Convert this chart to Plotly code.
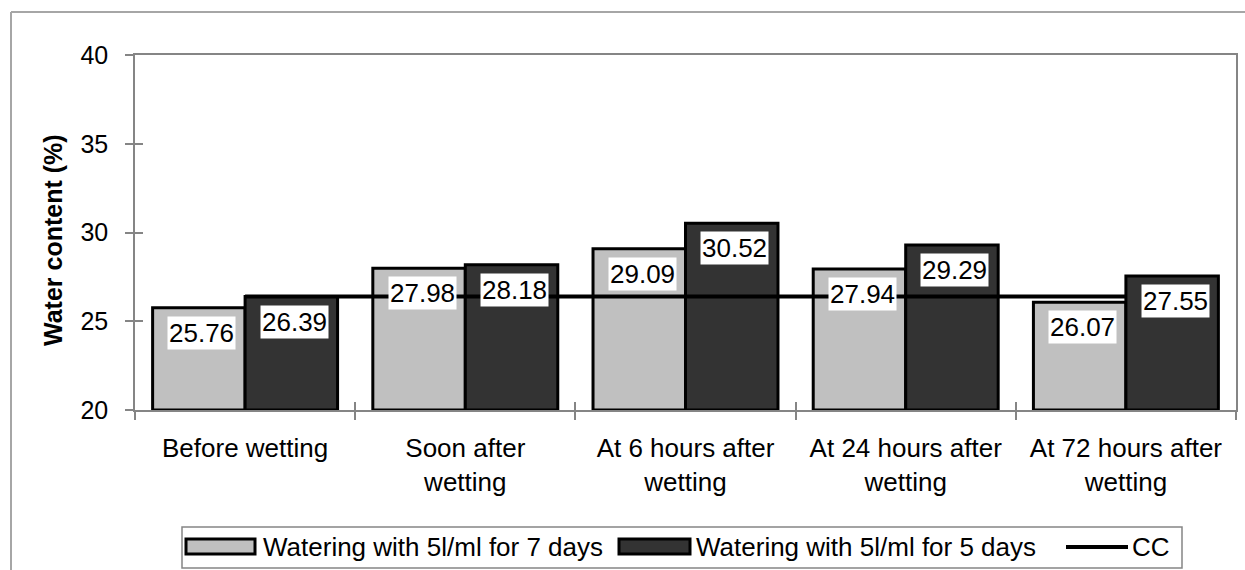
import plotly.graph_objects as go

# ---- data ----
categories = [
    "Before wetting",
    "Soon after<br>wetting",
    "At 6 hours after<br>wetting",
    "At 24 hours after<br>wetting",
    "At 72 hours after<br>wetting",
]
seven_days = [25.76, 27.98, 29.09, 27.94, 26.07]
five_days = [26.39, 28.18, 30.52, 29.29, 27.55]
cc_values = [26.4, 26.4, 26.4, 26.4, 26.4]
y_ticks = [20, 25, 30, 35, 40]
series_names = [
    "Watering with 5l/ml for 7 days",
    "Watering with 5l/ml for 5 days",
    "CC",
]
y_title = "Water content (%)"

# ---- geometry / style ----
W, H = 1245, 570
L, R, T, B = 135, 9, 55, 160
PW = W - L - R
PH = H - T - B
Y_MIN, Y_MAX = 20, 40
BARGAP = 0.16

FONT = "Liberation Sans, Arial, Helvetica, sans-serif"
LIGHT = "#c0c0c0"
DARK = "#333333"
AXIS = "#858585"
FRAME = "#a6a6a6"


def px(xp):
    """page x pixel -> paper x"""
    return (xp - L) / PW


def py(yp):
    """page y pixel -> paper y"""
    return (H - B - yp) / PH


fig = go.Figure()

# bars rise from the bottom of the value axis
fig.add_bar(
    x=categories, y=[v - Y_MIN for v in seven_days], base=Y_MIN,
    name=series_names[0], customdata=seven_days,
    hovertemplate="%{customdata}<extra></extra>",
    marker=dict(color=LIGHT, line=dict(color="black", width=3)),
)
fig.add_bar(
    x=categories, y=[v - Y_MIN for v in five_days], base=Y_MIN,
    name=series_names[1], customdata=five_days,
    hovertemplate="%{customdata}<extra></extra>",
    marker=dict(color=DARK, line=dict(color="black", width=3)),
)
fig.add_scatter(
    x=categories, y=cc_values, mode="lines", name=series_names[2],
    line=dict(color="black", width=4),
)
# carrier trace for the overlay axes that draw the inner half of each tick
fig.add_scatter(
    x=categories, y=cc_values, xaxis="x2", yaxis="y2", mode="lines",
    line=dict(width=0), opacity=0, hoverinfo="skip", showlegend=False,
)

# value labels in white boxes just below each bar top
half_bar = PW / len(categories) * (1 - BARGAP) / 4
for i, cat in enumerate(categories):
    for vals, sign in ((seven_days, -1), (five_days, 1)):
        fig.add_annotation(
            x=cat, y=vals[i], xref="x", yref="y",
            text=f"{vals[i]:.2f}", showarrow=False,
            xanchor="center", yanchor="top",
            xshift=sign * half_bar + 3, yshift=-8,
            bgcolor="white", borderpad=1,
            font=dict(family=FONT, size=26, color="black"),
        )

# y-axis title
fig.add_annotation(
    x=px(53), y=py(240), xref="paper", yref="paper",
    text=f"<b>{y_title}</b>", textangle=-90, showarrow=False,
    xanchor="center", yanchor="middle",
    font=dict(family=FONT, size=25, color="black"),
)

shapes = []
# outer chart frame (left and top edges)
shapes.append(dict(type="line", xref="paper", yref="paper",
                   x0=px(11), y0=py(12), x1=px(1260), y1=py(12),
                   line=dict(color=FRAME, width=2)))
shapes.append(dict(type="line", xref="paper", yref="paper",
                   x0=px(11), y0=py(12), x1=px(11), y1=py(600),
                   line=dict(color=FRAME, width=2)))

# legend box
shapes.append(dict(type="rect", xref="paper", yref="paper",
                   x0=px(182), x1=px(1182), y0=py(568), y1=py(527),
                   line=dict(color=AXIS, width=1.5), fillcolor="white"))
shapes.append(dict(type="rect", xref="paper", yref="paper",
                   x0=px(186), x1=px(255), y0=py(554), y1=py(539),
                   line=dict(color="black", width=3), fillcolor=LIGHT))
shapes.append(dict(type="rect", xref="paper", yref="paper",
                   x0=px(619), x1=px(690), y0=py(554), y1=py(539),
                   line=dict(color="black", width=3), fillcolor=DARK))
shapes.append(dict(type="line", xref="paper", yref="paper",
                   x0=px(1066), x1=px(1128), y0=py(547), y1=py(547),
                   line=dict(color="black", width=4)))
for name, xp in zip(series_names, (261, 694, 1130)):
    fig.add_annotation(
        x=px(xp), y=py(547), xref="paper", yref="paper",
        text=name, showarrow=False, xanchor="left", yanchor="middle",
        font=dict(family=FONT, size=26, color="black"),
    )

fig.update_layout(
    width=W, height=H,
    margin=dict(l=L, r=R, t=T, b=B, pad=0, autoexpand=False),
    paper_bgcolor="white", plot_bgcolor="white",
    barmode="group", bargap=BARGAP, bargroupgap=0,
    showlegend=False,
    font=dict(family=FONT, size=26, color="black"),
    shapes=shapes,
    xaxis=dict(
        type="category", range=[-0.5, len(categories) - 0.5],
        showline=True, linecolor=AXIS, linewidth=1.5, mirror=True,
        ticks="outside", ticklen=8, tickwidth=1.5, tickcolor=AXIS,
        tickson="boundaries", showgrid=False, ticklabelstandoff=14,
        tickfont=dict(family=FONT, size=26, color="black"),
    ),
    xaxis2=dict(
        type="category", overlaying="x", anchor="y2",
        range=[-0.5, len(categories) - 0.5],
        ticks="inside", ticklen=8, tickwidth=1.5, tickcolor=AXIS,
        tickson="boundaries", showticklabels=False,
        showgrid=False, showline=False,
    ),
    yaxis=dict(
        range=[Y_MIN, Y_MAX], tickvals=y_ticks,
        showline=True, linecolor=AXIS, linewidth=1.5, mirror=True,
        ticks="outside", ticklen=8, tickwidth=1.5, tickcolor=AXIS,
        showgrid=False, zeroline=False, ticklabelstandoff=12,
        tickfont=dict(family=FONT, size=25, color="black"),
    ),
    yaxis2=dict(
        range=[Y_MIN, Y_MAX], tickvals=y_ticks, overlaying="y", anchor="x2",
        ticks="inside", ticklen=8, tickwidth=1.5, tickcolor=AXIS,
        showticklabels=False, showgrid=False, zeroline=False, showline=False,
    ),
)

fig.write_html("out.html")
